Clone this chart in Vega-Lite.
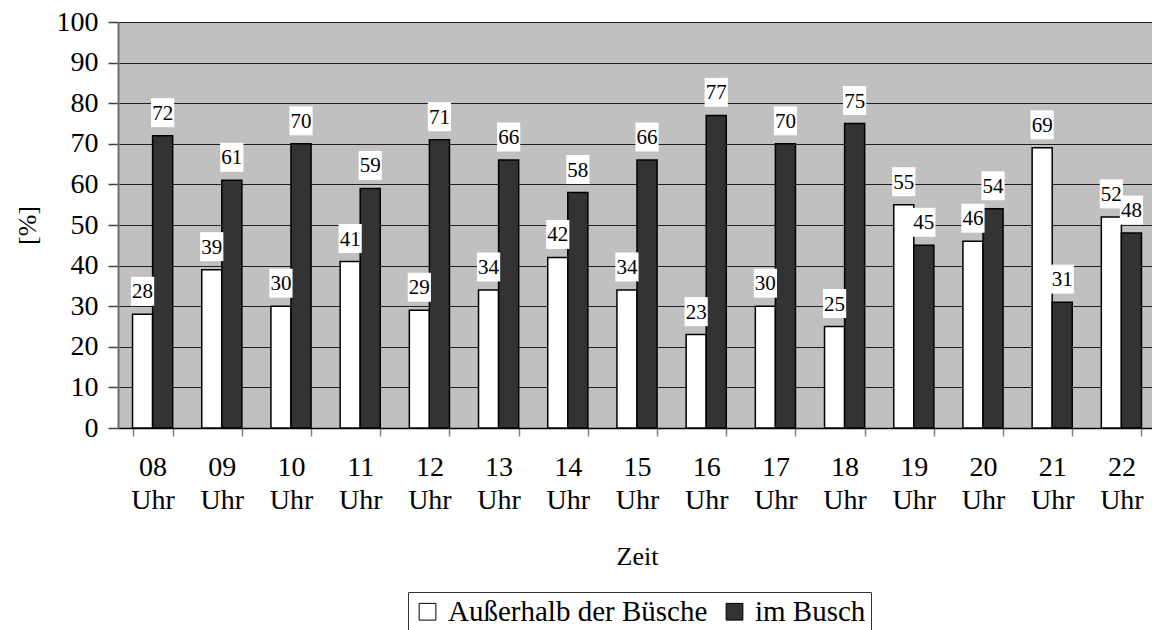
{
  "$schema": "https://vega.github.io/schema/vega-lite/v6.json",
  "width": 1038,
  "height": 406,
  "autosize": {"type": "none"},
  "padding": {"left": 118, "top": 22, "right": 0, "bottom": 202},
  "background": "white",
  "config": {
    "font": "Liberation Serif",
    "view": {"fill": "#C0C0C0", "stroke": null}
  },
  "data": {
    "values": [
      {"zeit": "08", "serie": "Außerhalb der Büsche", "wert": 28},
      {"zeit": "08", "serie": "im Busch", "wert": 72},
      {"zeit": "09", "serie": "Außerhalb der Büsche", "wert": 39},
      {"zeit": "09", "serie": "im Busch", "wert": 61},
      {"zeit": "10", "serie": "Außerhalb der Büsche", "wert": 30},
      {"zeit": "10", "serie": "im Busch", "wert": 70},
      {"zeit": "11", "serie": "Außerhalb der Büsche", "wert": 41},
      {"zeit": "11", "serie": "im Busch", "wert": 59},
      {"zeit": "12", "serie": "Außerhalb der Büsche", "wert": 29},
      {"zeit": "12", "serie": "im Busch", "wert": 71},
      {"zeit": "13", "serie": "Außerhalb der Büsche", "wert": 34},
      {"zeit": "13", "serie": "im Busch", "wert": 66},
      {"zeit": "14", "serie": "Außerhalb der Büsche", "wert": 42},
      {"zeit": "14", "serie": "im Busch", "wert": 58},
      {"zeit": "15", "serie": "Außerhalb der Büsche", "wert": 34},
      {"zeit": "15", "serie": "im Busch", "wert": 66},
      {"zeit": "16", "serie": "Außerhalb der Büsche", "wert": 23},
      {"zeit": "16", "serie": "im Busch", "wert": 77},
      {"zeit": "17", "serie": "Außerhalb der Büsche", "wert": 30},
      {"zeit": "17", "serie": "im Busch", "wert": 70},
      {"zeit": "18", "serie": "Außerhalb der Büsche", "wert": 25},
      {"zeit": "18", "serie": "im Busch", "wert": 75},
      {"zeit": "19", "serie": "Außerhalb der Büsche", "wert": 55},
      {"zeit": "19", "serie": "im Busch", "wert": 45},
      {"zeit": "20", "serie": "Außerhalb der Büsche", "wert": 46},
      {"zeit": "20", "serie": "im Busch", "wert": 54},
      {"zeit": "21", "serie": "Außerhalb der Büsche", "wert": 69},
      {"zeit": "21", "serie": "im Busch", "wert": 31},
      {"zeit": "22", "serie": "Außerhalb der Büsche", "wert": 52},
      {"zeit": "22", "serie": "im Busch", "wert": 48}
    ]
  },
  "encoding": {
    "x": {
      "field": "zeit", "type": "nominal", "sort": null,
      "scale": {"paddingInner": 0.42, "paddingOuter": 0.21},
      "axis": {
        "title": "Zeit", "titleFont": "Liberation Serif", "titleFontSize": 26, "titleFontWeight": "normal",
        "titleColor": "black", "titlePadding": 29,
        "labelExpr": "datum.value ? [datum.value, 'Uhr'] : ''", "labelAngle": 0, "labelFont": "Liberation Serif",
        "labelFontSize": 28, "labelColor": "black", "labelLineHeight": 33, "labelPadding": 17,
        "labelFlush": false, "labelOverlap": false, "labelBound": false,
        "tickBand": "extent", "tickSize": 8, "tickColor": "#808080", "tickWidth": 1.5,
        "domainColor": "black", "domainWidth": 1.5, "grid": false
      }
    },
    "y": {
      "field": "wert", "type": "quantitative",
      "scale": {"domain": [0, 100]},
      "axis": {
        "title": "[%]", "titleFont": "Liberation Serif", "titleFontSize": 26, "titleFontWeight": "normal",
        "titleColor": "black", "titlePadding": 16,
        "values": [0, 10, 20, 30, 40, 50, 60, 70, 80, 90, 100],
        "labelFont": "Liberation Serif", "labelFontSize": 28, "labelColor": "black", "labelPadding": 10,
        "tickSize": 10, "tickColor": "#404040", "tickWidth": 1.5,
        "domainColor": "#707070", "domainWidth": 2,
        "grid": true, "gridColor": "#202020", "gridWidth": 1
      }
    },
    "xOffset": {"field": "serie", "type": "nominal", "sort": ["Außerhalb der Büsche", "im Busch"]}
  },
  "layer": [
    {
      "mark": {"type": "bar", "stroke": "black", "strokeWidth": 1.5},
      "encoding": {
        "fill": {
          "field": "serie", "type": "nominal", "sort": ["Außerhalb der Büsche", "im Busch"],
          "scale": {"range": ["#FFFFFF", "#333333"]},
          "legend": {
            "title": null, "orient": "none", "legendX": 290, "legendY": 570,
            "direction": "horizontal", "columns": 2,
            "strokeColor": "#333333", "padding": 5, "fillColor": "white",
            "symbolType": "square", "symbolSize": 280, "symbolStrokeColor": "black", "symbolStrokeWidth": 1,
            "symbolOpacity": 1,
            "labelFont": "Liberation Serif", "labelFontSize": 29, "labelColor": "black",
            "labelOffset": 6, "columnPadding": 12, "labelLimit": 400
          }
        }
      }
    },
    {
      "mark": {
        "type": "point", "filled": true, "color": "white", "opacity": 1,
        "shape": "M-0.8,-1H0.8V1H-0.8Z", "size": 841, "yOffset": -23
      }
    },
    {
      "mark": {
        "type": "text", "font": "Liberation Serif", "fontSize": 21, "color": "black",
        "baseline": "middle", "yOffset": -22
      },
      "encoding": {"text": {"field": "wert", "type": "quantitative"}}
    }
  ]
}
